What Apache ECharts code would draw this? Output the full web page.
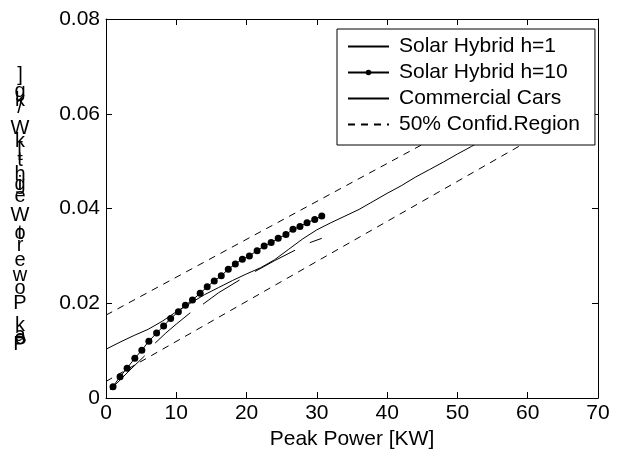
<!DOCTYPE html>
<html>
<head>
<meta charset="utf-8">
<script src="https://cdn.jsdelivr.net/npm/echarts@6/dist/echarts.min.js"></script>
<style>
  html, body { margin: 0; padding: 0; background: #fff; }
  #main { width: 636px; height: 459px; }
</style>
</head>
<body>
<div id="main"></div>
<script>
// ticks
var powerTicks = [0, 10, 20, 30, 40, 50, 60, 70];
var ratioTicks = [0, 0.02, 0.04, 0.06, 0.08];

// Solar Hybrid h=1 (null = break in the line)
var h1Power = [0.6, 2, 3.4, 5.5, 6.2, 7, 8.5, 10, 12, 12.9, 13.8, 16, 19, 20.1, 21.2, 24, 26.9, 28, 29, 30.7];
var h1Ratio = [0.0017, 0.0038, 0.0059, 0.0089, null, 0.0116, 0.0137, 0.0156, 0.018, null, 0.0198, 0.0222, 0.0249, null, 0.0267, 0.029, 0.0312, null, 0.0328, 0.0337];

// Solar Hybrid h=10
var h10Power = [1, 2, 3, 4.1, 5.1, 6.1, 7.2, 8.2, 9.2, 10.3, 11.3, 12.3, 13.4, 14.4, 15.4, 16.4, 17.4, 18.4, 19.4, 20.4, 21.5, 22.5, 23.5, 24.5, 25.6, 26.6, 27.6, 28.6, 29.7, 30.7];
var h10Ratio = [0.0024, 0.0045, 0.0063, 0.0084, 0.0101, 0.012, 0.0137, 0.0152, 0.0168, 0.0182, 0.0196, 0.0207, 0.0221, 0.0235, 0.0247, 0.0258, 0.0272, 0.0283, 0.0293, 0.03, 0.0311, 0.0321, 0.0328, 0.0337, 0.0345, 0.0356, 0.0362, 0.037, 0.0377, 0.0384];

// Commercial Cars
var carsPower = [0, 2, 4, 6, 8, 10, 12, 14, 16, 18, 20, 22, 24, 26, 28, 30, 32, 34, 36, 38, 40, 42, 44, 46, 48, 50, 52, 54, 56, 58, 60];
var carsRatio = [0.0103, 0.0118, 0.0132, 0.0145, 0.0162, 0.0182, 0.02, 0.0218, 0.0233, 0.0248, 0.0262, 0.0275, 0.0292, 0.0314, 0.0336, 0.0355, 0.037, 0.0384, 0.0398, 0.0415, 0.0432, 0.0448, 0.0466, 0.0482, 0.0498, 0.0515, 0.0531, 0.0548, 0.0565, 0.0581, 0.0598];

// 50% confidence region
var confPower = [0, 65];
var confUpper = [0.0175, 0.0695];
var confLower = [0.0035, 0.0584];

// y axis title, drawn as upright glyphs stacked bottom to top (as in the original)
var yLabelChars = ['P', 'e', 'a', 'k', 'P', 'o', 'w', 'e', 'r', 't', 'o', 'W', 'e', 'i', 'g', 'h', 't', '[', 'k', 'W', '/', 'k', 'g', ']'];
var yLabelPos   = [344, 338, 335, 325, 303, 288, 275, 260, 245, 233, 233, 215, 196, 184, 184, 174, 160, 150, 141, 128, 107, 100, 91, 75];

function pairs(xs, ys) {
    var out = [];
    for (var i = 0; i < xs.length; i++) {
        out.push([xs[i], ys[i] === null ? '-' : ys[i]]);
    }
    return out;
}

var FONT = 'Liberation Sans, Arial, sans-serif';

var yLabel = yLabelChars.map(function (ch, i) {
    return {
        type: 'text', x: 20, y: yLabelPos[i],
        style: {
            text: ch, fill: '#000', font: '20px ' + FONT,
            textAlign: 'center', textVerticalAlign: 'middle'
        }
    };
});

var myChart = echarts.init(document.getElementById('main'));
var axisBase = {
    type: 'value',
    axisLine: { show: true, onZero: false, lineStyle: { color: '#000', width: 1 } },
    axisTick: { show: true, inside: true, length: 6, lineStyle: { color: '#000' } },
    splitLine: { show: false }
};
var noMark = { opacity: 0 };
var option = {
    backgroundColor: '#fff',
    animation: false,
    grid: { left: 106, top: 19, right: 38, bottom: 61 },
    legend: {
        orient: 'vertical',
        left: 337,
        top: 29,
        backgroundColor: '#fff',
        borderColor: '#000',
        borderWidth: 1,
        padding: [7, 15, 10, 10],
        itemWidth: 41,
        itemHeight: 7,
        itemGap: 5,
        textStyle: { fontSize: 21, fontFamily: FONT, color: '#000', padding: [0, 0, 0, 5] },
        data: [
            { name: 'Solar Hybrid h=1', itemStyle: noMark },
            { name: 'Solar Hybrid h=10' },
            { name: 'Commercial Cars', itemStyle: noMark },
            { name: '50% Confid.Region', itemStyle: noMark }
        ]
    },
    xAxis: [
        Object.assign({}, axisBase, {
            min: powerTicks[0], max: powerTicks[powerTicks.length - 1], interval: 10,
            name: 'Peak Power [KW]', nameLocation: 'middle', nameGap: 22,
            nameTextStyle: { fontSize: 21, fontFamily: FONT, color: '#000' },
            axisLabel: { fontSize: 21, fontFamily: FONT, color: '#000', margin: 5 }
        }),
        Object.assign({}, axisBase, {
            position: 'top', min: 0, max: 70, interval: 10,
            axisLabel: { show: false }
        })
    ],
    yAxis: [
        Object.assign({}, axisBase, {
            min: ratioTicks[0], max: ratioTicks[ratioTicks.length - 1], interval: 0.02,
            axisLabel: { fontSize: 21, fontFamily: FONT, color: '#000', margin: 6 }
        }),
        Object.assign({}, axisBase, {
            position: 'right', min: 0, max: 0.08, interval: 0.02,
            axisLabel: { show: false }
        })
    ],
    graphic: yLabel,
    series: [
        {
            name: 'Solar Hybrid h=1', type: 'line', data: pairs(h1Power, h1Ratio),
            symbol: 'none', connectNulls: false,
            lineStyle: { color: '#000', width: 1 }, itemStyle: { color: '#000' }
        },
        {
            name: 'Solar Hybrid h=10', type: 'line', data: pairs(h10Power, h10Ratio),
            symbol: 'circle', symbolSize: 7,
            lineStyle: { color: '#000', width: 1 }, itemStyle: { color: '#000' }
        },
        {
            name: 'Commercial Cars', type: 'line', data: pairs(carsPower, carsRatio),
            symbol: 'none',
            lineStyle: { color: '#000', width: 1 }, itemStyle: { color: '#000' }
        },
        {
            name: '50% Confid.Region', type: 'line', data: pairs(confPower, confUpper),
            symbol: 'none',
            lineStyle: { color: '#000', width: 1, type: [7, 6] }, itemStyle: { color: '#000' }
        },
        {
            name: '50% Confid.Region', type: 'line', data: pairs(confPower, confLower),
            symbol: 'none',
            lineStyle: { color: '#000', width: 1, type: [7, 6] }, itemStyle: { color: '#000' }
        }
    ]
};
myChart.setOption(option);
</script>
</body>
</html>
